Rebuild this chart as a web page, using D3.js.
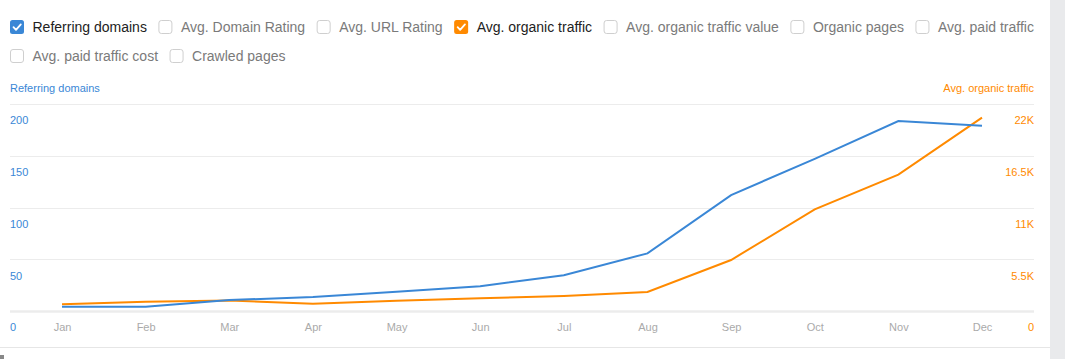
<!DOCTYPE html>
<html><head><meta charset="utf-8">
<script src="https://cdn.jsdelivr.net/npm/d3@7"></script>
<style>
body{margin:0;background:#fff;font-family:Arial,"Liberation Sans",sans-serif;}
svg{display:block;}
</style></head>
<body>
<svg id="c" width="1065" height="359"></svg>
<script>
const months = ["Jan","Feb","Mar","Apr","May","Jun","Jul","Aug","Sep","Oct","Nov","Dec"];
const referringDomains = [4, 4, 10.6, 13.5, 18.7, 24, 34.5, 55.7, 112, 147, 183.6, 179];
const organicTraffic = [710, 990, 1120, 780, 1090, 1350, 1590, 2020, 5420, 10800, 14500, 20550];
const leftTicks = [0, 50, 100, 150, 200];
const rightTicks = [0, 5500, 11000, 16500, 22000];
const rightTickLabels = ["0", "5.5K", "11K", "16.5K", "22K"];
const metrics = ["Referring domains","Avg. Domain Rating","Avg. URL Rating","Avg. organic traffic","Avg. organic traffic value","Organic pages","Avg. paid traffic","Avg. paid traffic cost","Crawled pages"];
const checked = {"Referring domains":"#3a87d6","Avg. organic traffic":"#ff8a00"};

const BLUE = "#3a87d6", ORANGE = "#ff8a00";
const svg = d3.select("#c");

// right gray strip and bottom border
svg.append("rect").attr("x",1050).attr("y",0).attr("width",15).attr("height",359).attr("fill","#e9eaec");
svg.append("line").attr("x1",0).attr("x2",1050).attr("y1",347.5).attr("y2",347.5).attr("stroke","#e6e6e6");
svg.append("rect").attr("x",0).attr("y",355).attr("width",4).attr("height",4).attr("fill","#888");

// checkbox legend row
const legend = svg.append("g");
let lx = 10, ly = 27;
metrics.forEach(m => {
  const g = legend.append("g");
  const t = g.append("text").attr("font-size",14).attr("dominant-baseline","central")
    .attr("fill", checked[m] ? "#222" : "#7a7a7a").text(m);
  const w = t.node().getComputedTextLength();
  if (lx + 22.5 + w > 1040) { lx = 10; ly += 29; }
  t.attr("x", lx + 22.5).attr("y", ly);
  if (checked[m]) {
    g.append("rect").attr("x",lx).attr("y",ly-7).attr("width",14).attr("height",14).attr("rx",2.5).attr("fill",checked[m]);
    g.append("path").attr("d",`M${lx+3.5},${ly+0.2} L${lx+6},${ly+2.8} L${lx+10.8},${ly-2.6}`)
      .attr("fill","none").attr("stroke","#fff").attr("stroke-width",1.8).attr("stroke-linecap","round").attr("stroke-linejoin","round");
  } else {
    g.append("rect").attr("x",lx+0.5).attr("y",ly-6.5).attr("width",13).attr("height",13).attr("rx",2.5)
      .attr("fill","#fff").attr("stroke","#cfcfcf");
  }
  lx = lx + 22.5 + w + 11.5;
});

// scales
const x = d3.scalePoint().domain(months).range([62, 982]);
const yL = d3.scaleLinear().domain([0, 200]).range([311, 104]);
const yR = d3.scaleLinear().domain([0, 22000]).range([311, 104]);

// axis titles
svg.append("text").attr("x",10).attr("y",92).attr("font-size",11).attr("fill",BLUE).text("Referring domains");
svg.append("text").attr("x",1034).attr("y",92).attr("font-size",11).attr("fill",ORANGE).attr("text-anchor","end").text("Avg. organic traffic");

// gridlines
svg.append("g").selectAll("line").data(leftTicks).join("line")
  .attr("x1",10).attr("x2",1034)
  .attr("y1",d=>Math.round(yL(d))+0.5).attr("y2",d=>Math.round(yL(d))+0.5)
  .attr("stroke","#ececec").attr("stroke-width",d=>d===0?2.5:1);

// left axis
const gl = svg.append("g").attr("transform","translate(10,0)")
  .call(d3.axisRight(yL).tickValues(leftTicks).tickSize(0).tickPadding(0));
gl.select(".domain").remove();
gl.selectAll("text").attr("fill",BLUE).attr("font-size",11).attr("font-family","Arial,'Liberation Sans',sans-serif").attr("dy","1.8em");

// right axis
const gr = svg.append("g").attr("transform","translate(1034,0)")
  .call(d3.axisLeft(yR).tickValues(rightTicks).tickFormat((d,i)=>rightTickLabels[i]).tickSize(0).tickPadding(0));
gr.select(".domain").remove();
gr.selectAll("text").attr("fill",ORANGE).attr("font-size",11).attr("font-family","Arial,'Liberation Sans',sans-serif").attr("dy","1.8em");

// bottom axis
const gb = svg.append("g").attr("transform","translate(0,311)")
  .call(d3.axisBottom(x).tickSize(0).tickPadding(0));
gb.select(".domain").remove();
gb.selectAll("text").attr("fill","#aaaaaa").attr("font-size",11).attr("font-family","Arial,'Liberation Sans',sans-serif").attr("dy","1.8em");

// lines
svg.append("path").datum(organicTraffic)
  .attr("d", d3.line().x((d,i)=>x(months[i])).y(d=>yR(d)))
  .attr("fill","none").attr("stroke",ORANGE).attr("stroke-width",2);
svg.append("path").datum(referringDomains)
  .attr("d", d3.line().x((d,i)=>x(months[i])).y(d=>yL(d)))
  .attr("fill","none").attr("stroke",BLUE).attr("stroke-width",2);
</script>
</body></html>
